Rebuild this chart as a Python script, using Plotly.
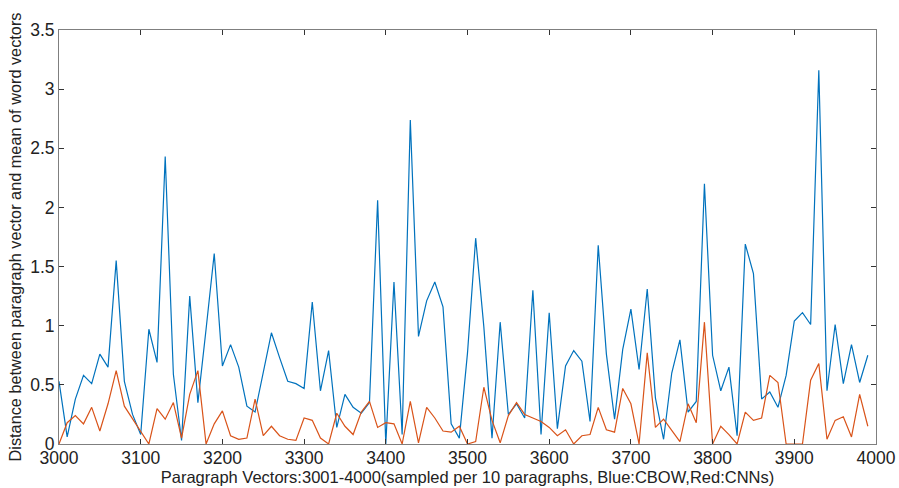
import plotly.graph_objects as go

x_vals = list(range(3000, 4000, 10))

cbow = [0.53, 0.06, 0.38, 0.58, 0.51, 0.76, 0.65, 1.55, 0.53, 0.25,
        0.08, 0.97, 0.69, 2.43, 0.59, 0.03, 1.25, 0.35, 0.97, 1.61,
        0.66, 0.84, 0.65, 0.32, 0.27, 0.59, 0.94, 0.73, 0.53, 0.51,
        0.47, 1.20, 0.45, 0.79, 0.14, 0.42, 0.31, 0.26, 0.35, 2.06,
        0.00, 1.37, 0.08, 2.74, 0.91, 1.21, 1.37, 1.16, 0.17, 0.05,
        0.77, 1.74, 0.99, 0.05, 1.03, 0.25, 0.34, 0.22, 1.30, 0.08,
        1.11, 0.13, 0.66, 0.79, 0.70, 0.19, 1.68, 0.76, 0.21, 0.80,
        1.14, 0.63, 1.31, 0.39, 0.04, 0.60, 0.88, 0.27, 0.36, 2.20,
        0.75, 0.45, 0.65, 0.07, 1.69, 1.44, 0.38, 0.44, 0.31, 0.58,
        1.04, 1.11, 1.01, 3.16, 0.45, 1.01, 0.51, 0.84, 0.52, 0.75]

cnn = [0.00, 0.18, 0.24, 0.17, 0.31, 0.11, 0.34, 0.62, 0.32, 0.21,
       0.10, 0.00, 0.30, 0.21, 0.35, 0.05, 0.42, 0.62, 0.00, 0.17,
       0.28, 0.07, 0.04, 0.05, 0.38, 0.07, 0.15, 0.07, 0.04, 0.03,
       0.22, 0.20, 0.05, 0.00, 0.26, 0.15, 0.08, 0.27, 0.36, 0.14,
       0.18, 0.17, 0.00, 0.36, 0.01, 0.31, 0.22, 0.11, 0.10, 0.15,
       0.00, 0.02, 0.48, 0.20, 0.01, 0.24, 0.35, 0.25, 0.22, 0.19,
       0.14, 0.07, 0.12, 0.00, 0.07, 0.08, 0.31, 0.12, 0.10, 0.47,
       0.34, 0.00, 0.77, 0.14, 0.21, 0.11, 0.02, 0.34, 0.18, 1.03,
       0.00, 0.15, 0.08, 0.00, 0.27, 0.20, 0.22, 0.58, 0.52, 0.00,
       0.00, 0.00, 0.54, 0.68, 0.04, 0.20, 0.23, 0.06, 0.42, 0.15]

x_ticks = list(range(3000, 4001, 100))
y_ticks = [0, 0.5, 1, 1.5, 2, 2.5, 3, 3.5]
y_tick_labels = ["0", "0.5", "1", "1.5", "2", "2.5", "3", "3.5"]

FONT = "Liberation Sans, Arial, Helvetica, sans-serif"

fig = go.Figure()
fig.add_trace(go.Scatter(x=x_vals, y=cbow, mode="lines",
                         line=dict(color="#0072BD", width=1.2), showlegend=False))
fig.add_trace(go.Scatter(x=x_vals, y=cnn, mode="lines",
                         line=dict(color="#D95319", width=1.2), showlegend=False))

axis_common = dict(showgrid=False, zeroline=False, showline=True, linecolor="#7f7f7f",
                   linewidth=1, mirror="ticks", ticks="inside", ticklen=5,
                   tickcolor="#333333", automargin=False,
                   tickfont=dict(family=FONT, size=17.5, color="#222222"))

fig.update_xaxes(range=[3000, 4000], tickvals=x_ticks, ticktext=[str(t) for t in x_ticks],
                 ticklabelstandoff=-2,
                 title=dict(text="Paragraph Vectors:3001-4000(sampled per 10 paragraphs, Blue:CBOW,Red:CNNs)",
                            font=dict(family=FONT, size=16.5, color="#222222"), standoff=0),
                 **axis_common)
fig.update_yaxes(range=[0, 3.5], tickvals=y_ticks, ticktext=y_tick_labels,
                 title=dict(text="Distance between paragraph vector and mean of word vectors",
                            font=dict(family=FONT, size=16.3, color="#222222"), standoff=4),
                 **axis_common)

fig.update_layout(width=899, height=488, margin=dict(l=59, r=23, t=30, b=44),
                  paper_bgcolor="white", plot_bgcolor="white",
                  font=dict(family=FONT))

fig.write_html("out.html")
